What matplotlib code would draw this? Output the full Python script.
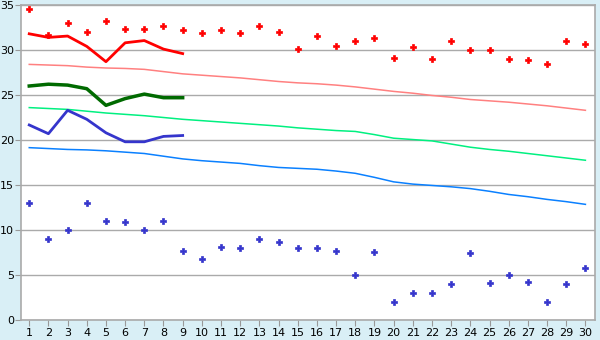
import numpy as np
import matplotlib
matplotlib.use("Agg")
import matplotlib.pyplot as plt

days = list(range(1, 31))

# scattered daily readings
red_points = [34.6, 31.7, 33.0, 32.0, 33.2, 32.3, 32.3, 32.7, 32.2, 31.85,
              32.2, 31.85, 32.7, 32.0, 30.1, 31.6, 30.5, 31.0, 31.3, 29.07,
              30.3, 28.96, 31.0, 30.0, 30.0, 28.96, 28.85, 28.4, 31.0, 30.7]
blue_points = [13.0, 9.0, 10.0, 13.0, 11.0, 10.85, 10.0, 11.0, 7.63, 6.74,
               8.07, 7.96, 8.96, 8.63, 7.96, 7.96, 7.63, 4.96, 7.52, 1.96,
               2.96, 2.96, 3.96, 7.4, 4.07, 4.96, 4.18, 1.96, 3.96, 5.74]

# first nine days lines
red_line = [31.8, 31.4, 31.55, 30.4, 28.7, 30.8, 31.05, 30.1, 29.6]
green_line = [26.0, 26.2, 26.1, 25.7, 23.85, 24.6, 25.1, 24.7, 24.7]
blue_line = [21.67, 20.7, 23.3, 22.3, 20.8, 19.8, 19.8, 20.4, 20.5]

# long trend lines
pink_trend = [28.4, 28.33, 28.26, 28.1, 28.0, 27.95, 27.85, 27.6, 27.35, 27.2,
              27.05, 26.9, 26.7, 26.5, 26.35, 26.25, 26.1, 25.9, 25.65, 25.4,
              25.2, 24.95, 24.75, 24.5, 24.35, 24.2, 24.0, 23.8, 23.55, 23.3]
green_trend = [23.6, 23.5, 23.4, 23.2, 23.0, 22.85, 22.7, 22.5, 22.3, 22.15,
               22.0, 21.85, 21.7, 21.55, 21.35, 21.2, 21.05, 20.95, 20.6, 20.2,
               20.05, 19.9, 19.55, 19.2, 18.95, 18.75, 18.5, 18.25, 18.0, 17.75]
blue_trend = [19.15, 19.05, 18.95, 18.9, 18.8, 18.65, 18.5, 18.2, 17.9, 17.7,
              17.55, 17.4, 17.15, 16.95, 16.85, 16.75, 16.55, 16.3, 15.85, 15.35,
              15.1, 14.95, 14.8, 14.6, 14.3, 13.95, 13.7, 13.4, 13.15, 12.85]

bg = '#d9eff6'
grid_col = '#aaaaaa'

fig = plt.figure(figsize=(6, 3.4), dpi=100, facecolor=bg)
ax = fig.add_axes([21 / 600, 20 / 340, 574 / 600, 315 / 340])
ax.set_facecolor('white')

ax.plot(days, pink_trend, color='#ff8080', lw=1.1)
ax.plot(days, green_trend, color='#00f080', lw=1.1)
ax.plot(days, blue_trend, color='#0a80ff', lw=1.1)

ax.plot(days[:9], red_line, color='#ff0000', lw=2)
ax.plot(days[:9], green_line, color='#006a00', lw=2.5)
ax.plot(days[:9], blue_line, color='#3535cc', lw=2)

ax.plot(days, red_points, ls='none', marker='P', ms=5, color='#ff0000', mew=0.5)
ax.plot(days, blue_points, ls='none', marker='P', ms=5, color='#3535cc', mew=0.5)

ax.set_xlim(0.57, 30.5)
ax.set_ylim(0, 35)
ax.set_yticks(range(0, 36, 5))
ax.set_xticks(days)
ax.yaxis.grid(True, color=grid_col, lw=1)
ax.set_axisbelow(True)
for s in ax.spines.values():
    s.set_color(grid_col)
    s.set_linewidth(1.2)
ax.tick_params(colors='#999999', labelcolor='black', labelsize=8, length=4)
ax.tick_params(axis='y', pad=1)
ax.tick_params(axis='x', pad=2)

fig.savefig('out.png', dpi=100, facecolor=bg)
